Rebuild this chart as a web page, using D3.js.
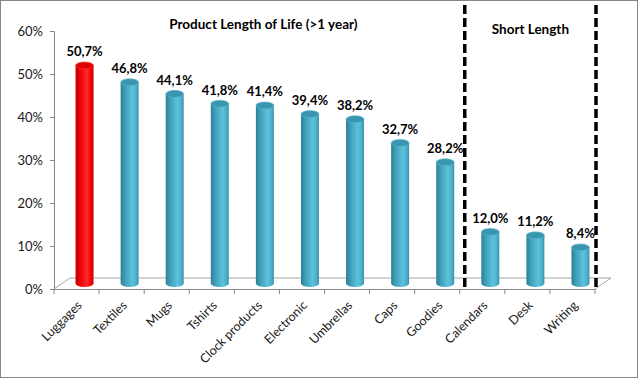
<!DOCTYPE html>
<html>
<head>
<meta charset="utf-8">
<script src="https://cdn.jsdelivr.net/npm/d3@7"></script>
<style>
  body { margin: 0; background: #fff; }
  svg text { font-family: Lato, "Open Sans", sans-serif; }
</style>
</head>
<body>
<div id="chart"></div>
<script>
var categories = ["Luggages", "Textiles", "Mugs", "Tshirts", "Clock products", "Electronic",
                  "Umbrellas", "Caps", "Goodies", "Calendars", "Desk", "Writing"];
var values = [50.7, 46.8, 44.1, 41.8, 41.4, 39.4, 38.2, 32.7, 28.2, 12.0, 11.2, 8.4];
var yTicks = [0, 10, 20, 30, 40, 50, 60];
var titleLong = "Product Length of Life (>1 year)";
var titleShort = "Short Length";
var splitIndex = 9; // first "short length" category

var svgWidth = 638, svgHeight = 378;
var margin = {top: 31, right: 43, bottom: 89, left: 54},
    width = svgWidth - margin.left - margin.right,
    height = svgHeight - margin.top - margin.bottom;

// fake 3d depth of the floor
var depth = {dx: 16, dy: -11};

var svg = d3.select("#chart").append("svg")
    .attr("width", svgWidth)
    .attr("height", svgHeight);

svg.append("rect")
    .attr("x", 0.5).attr("y", 0.5)
    .attr("width", svgWidth - 1).attr("height", svgHeight - 1)
    .attr("fill", "#fff")
    .attr("stroke", "#868686");

var defs = svg.append("defs");

function cylGradient(id, stops) {
    var gr = defs.append("linearGradient").attr("id", id)
        .attr("x1", "0%").attr("x2", "100%").attr("y1", "0%").attr("y2", "0%");
    stops.forEach(s => gr.append("stop").attr("offset", s[0]).attr("stop-color", s[1]));
}
cylGradient("teal", [["0%", "#2f7f95"], ["25%", "#3f9fb9"], ["65%", "#5cc2dc"], ["85%", "#4fb1cc"], ["100%", "#3791aa"]]);
cylGradient("red", [["0%", "#c00000"], ["25%", "#ee0000"], ["65%", "#ff2a2a"], ["85%", "#f30000"], ["100%", "#c80000"]]);

var g = svg.append("g")
    .attr("transform", `translate(${margin.left}, ${margin.top})`);

var x = d3.scaleBand()
    .domain(categories)
    .range([0, width]);

var y = d3.scaleLinear()
    .domain([0, 60])
    .range([height, 0]);

// floor
var floor = g.append("g").attr("class", "floor")
    .attr("stroke", "#a6a6a6").attr("fill", "none");
floor.append("line")
    .attr("x1", 0).attr("y1", height)
    .attr("x2", depth.dx).attr("y2", height + depth.dy);
floor.append("line")
    .attr("x1", depth.dx).attr("y1", height + depth.dy)
    .attr("x2", width + depth.dx).attr("y2", height + depth.dy);
floor.append("line")
    .attr("x1", width).attr("y1", height)
    .attr("x2", width + depth.dx).attr("y2", height + depth.dy);

// y axis
var yAxis = g.append("g")
    .attr("class", "y axis")
    .call(d3.axisLeft(y).tickValues(yTicks).tickSize(4).tickPadding(7).tickFormat(d => d + "%"));
yAxis.select(".domain").attr("stroke", "#868686");
yAxis.selectAll(".tick line").attr("stroke", "#868686");
yAxis.selectAll(".tick text")
    .attr("fill", "#1a1a1a")
    .style("font-size", "13px");

// x axis
var xAxis = g.append("g")
    .attr("class", "x axis")
    .attr("transform", `translate(0, ${height})`)
    .call(d3.axisBottom(x).tickSize(0).tickFormat(""));
xAxis.select(".domain").attr("stroke", "#868686");
xAxis.selectAll(".tick").remove();

var bounds = d3.range(categories.length + 1).map(i => i * x.step());
xAxis.selectAll(".bound")
    .data(bounds)
    .enter().append("line")
    .attr("class", "bound")
    .attr("x1", d => d).attr("x2", d => d)
    .attr("y1", 0).attr("y2", 5)
    .attr("stroke", "#868686");

xAxis.selectAll(".lbl")
    .data(categories)
    .enter().append("text")
    .attr("class", "lbl")
    .attr("transform", d => `translate(${x(d) + x.bandwidth() / 2 + 3}, 14) rotate(-45)`)
    .attr("text-anchor", "end")
    .attr("dy", "0.35em")
    .attr("fill", "#1a1a1a")
    .style("font-size", "12.5px")
    .text(d => d);

// cylinders
var barW = 18, ry = 3.5;
var data = categories.map((c, i) => ({cat: c, value: values[i], i: i}));

var bars = g.append("g").attr("class", "bars")
    .selectAll("g")
    .data(data)
    .enter().append("g");

function cx(d) { return x(d.cat) + x.bandwidth() / 2 + depth.dx / 2; }
function barBase() { return y(0) + depth.dy / 2; }
function barTop(d) { return y(d.value) + depth.dy / 2; }

bars.append("path")
    .attr("fill", d => d.i === 0 ? "url(#red)" : "url(#teal)")
    .attr("d", d => {
        var x0 = cx(d) - barW / 2, x1 = cx(d) + barW / 2;
        return `M${x0},${barTop(d)} L${x0},${barBase()} A${barW / 2},${ry} 0 0 0 ${x1},${barBase()} L${x1},${barTop(d)} Z`;
    });

bars.append("ellipse")
    .attr("cx", cx)
    .attr("cy", barTop)
    .attr("rx", barW / 2)
    .attr("ry", ry)
    .attr("fill", d => d.i === 0 ? "#e00000" : "#3a95ae")
    .attr("stroke", d => d.i === 0 ? "#ff3b3b" : "#5fb9d2")
    .attr("stroke-width", 0.6);

bars.append("text")
    .attr("x", cx)
    .attr("y", d => barTop(d) - 9)
    .attr("text-anchor", "middle")
    .attr("fill", "#000")
    .style("font-size", "13px")
    .style("font-weight", "bold")
    .text(d => d3.format(".1f")(d.value).replace(".", ",") + "%");

// dashed separators
var sep1 = x(categories[splitIndex]) + 5;
var sep2 = x.range()[1] + 1;
g.selectAll(".sep")
    .data([sep1, sep2])
    .enter().append("line")
    .attr("class", "sep")
    .attr("x1", d => d).attr("x2", d => d)
    .attr("y1", -margin.top + 5).attr("y2", height)
    .attr("stroke", "#000")
    .attr("stroke-width", 3.5)
    .attr("stroke-dasharray", "9,4");

// section titles
g.append("text")
    .attr("x", (0 + sep1) / 2 + 4)
    .attr("y", -2)
    .attr("text-anchor", "middle")
    .style("font-size", "13.5px")
    .style("font-weight", "bold")
    .text(titleLong);

g.append("text")
    .attr("x", (sep1 + sep2) / 2)
    .attr("y", 3)
    .attr("text-anchor", "middle")
    .style("font-size", "13.5px")
    .style("font-weight", "bold")
    .text(titleShort);
</script>
</body>
</html>
